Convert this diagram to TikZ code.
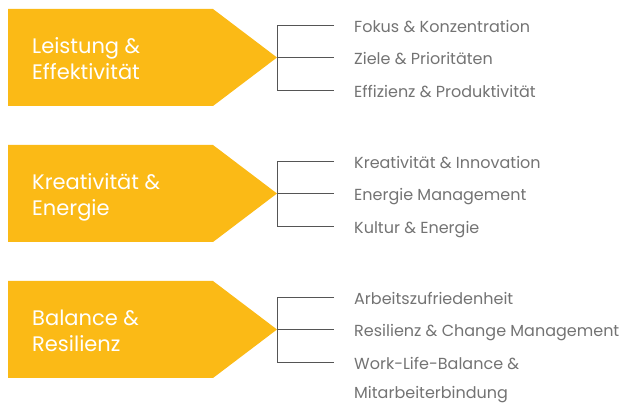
\documentclass[tikz,border=0pt]{standalone}
\usepackage{fontspec}
\setmainfont{Poppins}
\definecolor{gold}{HTML}{FBBA16}
\definecolor{txtgray}{HTML}{737373}
\definecolor{linegray}{HTML}{555555}
\begin{document}
\begin{tikzpicture}[x=1pt,y=-1pt,
  chevron/.style={fill=gold,draw=none},
  headtext/.style={anchor=base west,text=white,font=\fontsize{21}{26}\selectfont,align=left,inner sep=0pt},
  item/.style={anchor=base west,text=txtgray,font=\fontsize{16}{32}\selectfont,inner sep=0pt},
  brace/.style={draw=linegray,line width=0.9pt}]
\useasboundingbox (0,0) rectangle (625,403);
\foreach \i/\y/\la/\lb/\ta/\tb/\tc in {
  1/0/{Leistung \&}/{Effektivität}/{Fokus \& Konzentration}/{Ziele \& Prioritäten}/{Effizienz \& Produktivität},
  2/136/{Kreativität \&}/{Energie}/{Kreativität \& Innovation}/{Energie Management}/{Kultur \& Energie},
  3/272/{Balance \&}/{Resilienz}/{Arbeitszufriedenheit}/{Resilienz \& Change Management}/{Work-Life-Balance \&}}{
  \fill[chevron] (8,9+\y) -- (213,9+\y) -- (277,57.5+\y) -- (213,106+\y) -- (8,106+\y) -- cycle;
  \node[headtext] (h\i) at (32,79.5+\y) {\la\\\lb};
  \coordinate (tip\i) at (277,57.5+\y);
  \coordinate (top\i) at (277,25+\y);
  \coordinate (bot\i) at (277,90+\y);
  \node[item] (a\i) at (354,32.5+\y) {\ta};
  \node[item] (b\i) at (354,65+\y) {\tb};
  \node[item] (c\i) at (354,97.5+\y) {\tc};
  \draw[brace] (top\i) ++(57,0) -- (top\i) -- (bot\i) -- ++(57,0);
  \draw[brace] (tip\i) -- ++(57,0);
}
\node[item] (d3) at (354,398.5) {Mitarbeiterbindung};
\end{tikzpicture}
\end{document}
